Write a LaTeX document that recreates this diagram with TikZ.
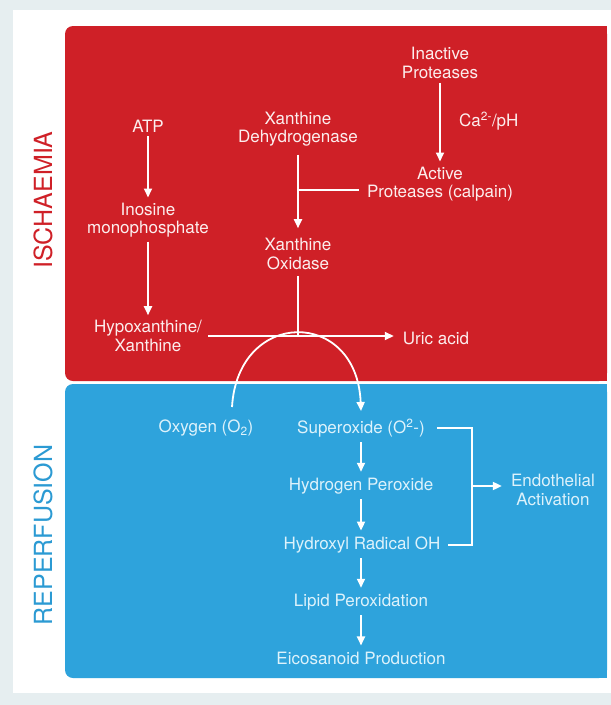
\documentclass[tikz,border=0pt]{standalone}
\usepackage{fontspec}
\setmainfont{TeX Gyre Heros}
\usetikzlibrary{arrows.meta,calc}
\definecolor{ired}{HTML}{CF2027}
\definecolor{rblue}{HTML}{2EA3DC}
\definecolor{labblue}{HTML}{2B9AD3}
\definecolor{bgray}{HTML}{E6EEF0}
\definecolor{btext}{HTML}{DDF2FB}
\definecolor{rtext}{HTML}{FCEEEE}
\begin{document}
\begin{tikzpicture}[x=1pt,y=-1pt,
  lbl/.style={align=center, font=\fontsize{17}{18.5}\selectfont, inner sep=2pt},
  rlbl/.style={lbl,text=rtext},
  blbl/.style={lbl,text=btext},
  flow/.style={draw=white, line width=1.8pt, -{Triangle[width=8pt,length=9pt]}},
  plainline/.style={draw=white, line width=1.8pt},
  phase/.style={rotate=90, font=\fontsize{25}{25}\selectfont, inner sep=0pt}
]
\useasboundingbox (0,0) rectangle (611,705);
\fill[bgray] (0,0) rectangle (611,705);
\fill[white] (13,10) rectangle (611,693);
% panels
\fill[ired, rounded corners=8pt] (65,26) rectangle (607,381);
\fill[ired] (300,26) rectangle (607,381);
\fill[rblue, rounded corners=8pt] (65,384) rectangle (607,678);
\fill[rblue] (300,384) rectangle (607,678);
% phase labels
\node[phase, text=ired] (isch) at (43,200) {ISCHAEMIA};
\node[phase, text=labblue] (rep) at (43,535) {REPERFUSION};
% ischaemia nodes
\node[rlbl] (inact) at (440,63) {Inactive\\Proteases};
\node[rlbl] (act) at (440,184) {Active\\Proteases (calpain)};
\node[rlbl, anchor=west] (ca) at (457,121) {Ca\textsuperscript{2-}/pH};
\node[rlbl] (atp) at (148,126) {ATP};
\node[rlbl] (imp) at (148,220) {Inosine\\monophosphate};
\node[rlbl] (hx) at (148,336) {Hypoxanthine/\\Xanthine};
\node[rlbl] (xdh) at (298,129) {Xanthine\\Dehydrogenase};
\node[rlbl] (xo) at (298,254) {Xanthine\\Oxidase};
\node[rlbl] (uric) at (436,338) {Uric acid};
% reperfusion nodes
\node[blbl] (oxy) at (206,428) {Oxygen (O\textsubscript{2})};
\node[blbl] (sup) at (361,428) {Superoxide (O\textsuperscript{2}-)};
\node[blbl] (hp) at (361,486) {Hydrogen Peroxide};
\node[blbl] (oh) at (362,545) {Hydroxyl Radical OH};
\node[blbl] (lp) at (361,602) {Lipid Peroxidation};
\node[blbl] (eic) at (361,658) {Eicosanoid Production};
\node[blbl] (endo) at (553,490) {Endothelial\\Activation};
% ischaemia connectors
\draw[flow, shorten <=2pt, shorten >=3pt] (inact) -- (act);
\draw[flow, shorten <=2pt, shorten >=3pt] (atp) -- (imp);
\draw[flow, shorten <=2pt, shorten >=3pt] (imp) -- (hx);
\draw[flow, shorten <=6pt, shorten >=8pt] (xdh) -- (xo);
\coordinate (j1) at (298,190);
\draw[plainline, shorten >=6pt] (j1) -- (act.west |- j1);
\draw[plainline, shorten <=4pt] (xo) -- (xo |- hx.east);
\draw[flow, shorten <=4pt, shorten >=7pt] (hx.east) -- (hx.east -| uric.west);
% oxygen arc
\coordinate (arcS) at (232,407);
\coordinate (arcE) at (361,411);
\draw[flow] (arcS) .. controls (238,308) and (357,308) .. (arcE);
% reperfusion connectors
\draw[flow, shorten <=3pt, shorten >=4pt] (sup.south) -- (sup.south |- hp.north);
\draw[flow, shorten <=3pt, shorten >=4pt] (hp.south) -- (hp.south |- oh.north);
\draw[flow, shorten <=3pt, shorten >=4pt] (oh.south -| hp.south) -- (hp.south |- lp.north);
\draw[flow, shorten <=3pt, shorten >=4pt] (lp.south) -- (lp.south |- eic.north);
\coordinate (br) at (472,486);
\draw[plainline] ([xshift=10pt]sup.east) -- (sup.east -| br) -- (oh.east -| br) -- ([xshift=5pt]oh.east);
\draw[flow, shorten >=7pt] (br) -- (br -| endo.west);
\end{tikzpicture}
\end{document}
